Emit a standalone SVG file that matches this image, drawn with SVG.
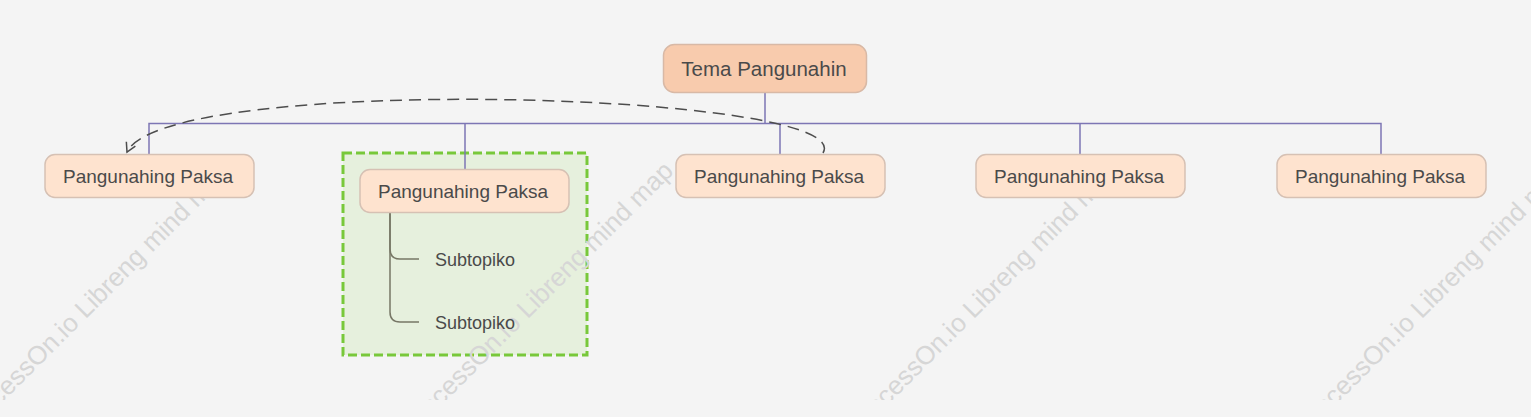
<svg xmlns="http://www.w3.org/2000/svg" width="1531" height="417" viewBox="0 0 1531 417">
<defs>
<style>
.bg{fill:#f4f4f4}
.wm{font-family:"Liberation Sans",Arial,sans-serif;font-size:26px;fill:#d6d6d6}
.root{fill:#f8cbad;stroke:#d8b9a6;stroke-width:1.5}
.main{fill:#fee3cf;stroke:#d6c1b4;stroke-width:1.5}
.t{font-family:"Liberation Sans",Arial,sans-serif;fill:#4a4a4a;text-anchor:middle}
.sub{font-family:"Liberation Sans",Arial,sans-serif;fill:#4a4a4a;font-size:18px}
.link{fill:none;stroke:#7d76b4;stroke-width:1.5}
.sublink{fill:none;stroke:#777766;stroke-width:1.5}
.rel{fill:none;stroke:#4d4d4d;stroke-width:1.5;stroke-dasharray:12 7}
</style>
<clipPath id="wmclip"><rect x="0" y="0" width="1531" height="400"/></clipPath>
<marker id="arr" markerWidth="14" markerHeight="14" refX="10" refY="6" orient="auto" markerUnits="userSpaceOnUse">
<path d="M1,1 L10,6 L1,11" fill="none" stroke="#4d4d4d" stroke-width="1.5"/>
</marker>
</defs>
<rect class="bg" x="0" y="0" width="1531" height="417"/>
<g id="boundary">
<rect x="343" y="153" width="244" height="202" fill="#e6f0dd" stroke="#78c83a" stroke-width="3" stroke-dasharray="9 4"/>
</g>
<g id="watermark" clip-path="url(#wmclip)">
<text class="wm" transform="translate(-30 435) rotate(-45)">ProcessOn.io Libreng mind map</text>
<text class="wm" transform="translate(412 435) rotate(-45)">ProcessOn.io Libreng mind map</text>
<text class="wm" transform="translate(858 435) rotate(-45)">ProcessOn.io Libreng mind map</text>
<text class="wm" transform="translate(1306 435) rotate(-45)">ProcessOn.io Libreng mind map</text>
</g>
<g id="connectors">
<path class="link" d="M765,93 V123" stroke-width="2"/>
<path class="link" d="M149,154 V123.5 H1381 V154"/>
<path class="link" d="M465,123.5 V169"/>
<path class="link" d="M780,123.5 V154"/>
<path class="link" d="M1080,123.5 V154"/>
<path class="sublink" d="M390,213 V249 Q390,259 400,259 H419"/>
<path class="sublink" d="M390,213 V312 Q390,322 400,322 H419"/>
<path class="rel" d="M823,153 C860,92 165,72 127,152" marker-end="url(#arr)"/>
</g>
<g id="root">
<rect class="root" x="663.5" y="44.5" width="203" height="48" rx="11"/>
<text class="t" x="764" y="76" font-size="20.5">Tema Pangunahin</text>
</g>
<g id="topic1">
<rect class="main" x="45" y="154.5" width="209" height="43" rx="10"/>
<text class="t" x="148" y="183" font-size="19">Pangunahing Paksa</text>
</g>
<g id="topic2">
<rect class="main" x="360" y="169.5" width="209" height="43" rx="10"/>
<text class="t" x="463" y="198" font-size="19">Pangunahing Paksa</text>
</g>
<g id="sub1">
<text class="sub" x="435" y="266">Subtopiko</text>
</g>
<g id="sub2">
<text class="sub" x="435" y="329">Subtopiko</text>
</g>
<g id="topic3">
<rect class="main" x="676" y="154.5" width="209" height="43" rx="10"/>
<text class="t" x="779" y="183" font-size="19">Pangunahing Paksa</text>
</g>
<g id="topic4">
<rect class="main" x="976" y="154.5" width="209" height="43" rx="10"/>
<text class="t" x="1079" y="183" font-size="19">Pangunahing Paksa</text>
</g>
<g id="topic5">
<rect class="main" x="1277" y="154.5" width="209" height="43" rx="10"/>
<text class="t" x="1380" y="183" font-size="19">Pangunahing Paksa</text>
</g>
</svg>
